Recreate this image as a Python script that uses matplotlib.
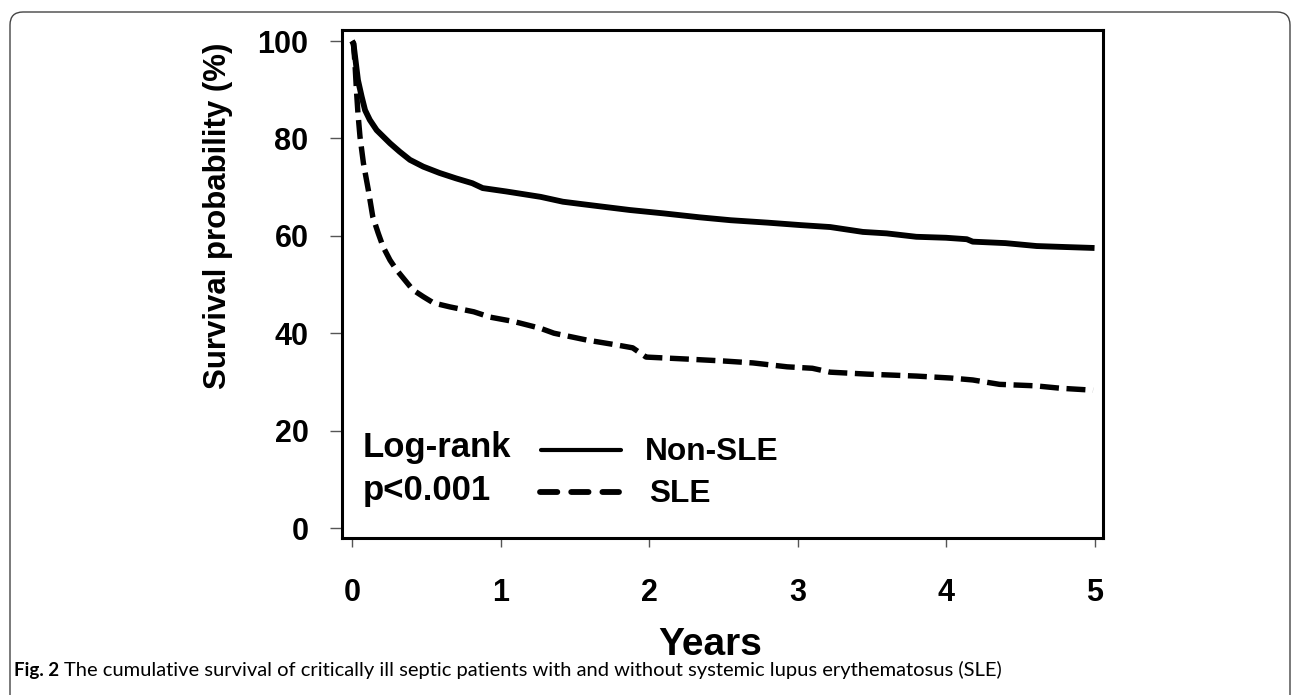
import matplotlib
matplotlib.use("Agg")
import matplotlib.pyplot as plt
from matplotlib.patches import FancyBboxPatch
from matplotlib.transforms import IdentityTransform

# ---------------- data ----------------
years_non_sle = [0.0, 0.01, 0.04, 0.065, 0.088, 0.12, 0.166, 0.256, 0.32, 0.39, 0.48,
                 0.59, 0.70, 0.81, 0.88, 1.04, 1.27, 1.42, 1.55, 1.87, 2.10, 2.34,
                 2.55, 2.80, 3.02, 3.22, 3.44, 3.60, 3.80, 4.00, 4.14, 4.18, 4.40,
                 4.61, 4.80, 5.0]
surv_non_sle = [100.0, 99.5, 92.0, 88.6, 85.8, 83.8, 81.7, 79.0, 77.3, 75.6, 74.2,
                72.9, 71.8, 70.8, 69.8, 69.1, 68.0, 67.0, 66.5, 65.3, 64.6, 63.8,
                63.2, 62.7, 62.2, 61.8, 60.8, 60.5, 59.8, 59.6, 59.3, 58.8, 58.5,
                57.9, 57.7, 57.5]

years_sle = [0.0, 0.01, 0.02, 0.03, 0.04, 0.054, 0.077, 0.11, 0.14, 0.177, 0.21,
             0.256, 0.30, 0.41, 0.48, 0.55, 0.66, 0.82, 0.93, 1.09, 1.27, 1.36,
             1.58, 1.78, 1.89, 1.98, 2.25, 2.50, 2.70, 2.93, 3.10, 3.22, 3.47,
             3.80, 4.03, 4.18, 4.36, 4.60, 4.77, 4.99]
surv_sle = [100.0, 99.5, 95.4, 89.9, 85.2, 80.3, 74.9, 69.4, 63.9, 60.5, 57.7,
            55.0, 53.0, 48.9, 47.5, 46.2, 45.4, 44.4, 43.3, 42.4, 41.0, 40.0,
            38.6, 37.6, 37.0, 35.1, 34.7, 34.3, 33.9, 33.1, 32.8, 32.0, 31.6,
            31.2, 30.8, 30.4, 29.5, 29.2, 28.7, 28.3]

group_labels = ["Non-SLE", "SLE"]
x_ticks = [0, 1, 2, 3, 4, 5]
y_ticks = [0, 20, 40, 60, 80, 100]
x_label = "Years"
y_label = "Survival probability (%)"
test_lines = ["Log-rank", "p<0.001"]
caption_bold = "Fig. 2"
caption_text = ("The cumulative survival of critically ill septic patients with and "
                "without systemic lupus erythematosus (SLE)")

# ---------------- figure ----------------
W, H = 1293, 695
fig = plt.figure(figsize=(W / 100, H / 100), dpi=100)
fig.patch.set_facecolor("white")

# rounded frame around the figure panel
frame = FancyBboxPatch((10, -30), 1280, 683 + 30, boxstyle="round,pad=0,rounding_size=13",
                       transform=IdentityTransform(), facecolor="none",
                       edgecolor="#444444", linewidth=1.0)
fig.add_artist(frame)

ax = fig.add_axes([342 / W, 1 - 538 / H, 761 / W, 508 / H])
ax.set_xlim(-0.0673, 5.057)
ax.set_ylim(-2.05, 102.26)

FONT = "Liberation Sans"

ax.plot(years_non_sle, surv_non_sle, color="black", lw=4.2,
        solid_joinstyle="round", solid_capstyle="butt")
ax.plot(years_sle, surv_sle, color="black", lw=3.9, linestyle=(0, (3.5, 1.4)),
        dash_capstyle="butt")

for s in ax.spines.values():
    s.set_linewidth(2.2)
    s.set_color("black")

ax.set_xticks(x_ticks)
ax.set_yticks(y_ticks)
ax.set_xticklabels([str(v) for v in x_ticks])
ax.set_yticklabels([str(v) for v in y_ticks])
ax.tick_params(axis="y", direction="out", length=8.6, width=1.0, color="#555555", pad=15.5)
ax.tick_params(axis="x", direction="out", length=6.8, width=1.0, color="#555555", pad=22)
for lab in ax.get_xticklabels() + ax.get_yticklabels():
    lab.set_fontfamily(FONT)
    lab.set_fontweight("bold")
    lab.set_fontsize(22)

# axis titles
fig.text(218 / W, 1 - 216 / H, y_label, rotation=90, ha="center", va="center",
         fontfamily=FONT, fontweight="bold", fontsize=22.5)
fig.text(710 / W, 1 - 655 / H, x_label, ha="center", va="baseline",
         fontfamily=FONT, fontweight="bold", fontsize=28)

# legend-like annotation
ax.text(0.074, 14.6, test_lines[0], ha="left", va="baseline",
        fontfamily=FONT, fontweight="bold", fontsize=25)
ax.text(0.074, 5.75, test_lines[1], ha="left", va="baseline",
        fontfamily=FONT, fontweight="bold", fontsize=25)
ax.plot([1.27, 1.81], [16.0, 16.0], color="black", lw=3.0, solid_capstyle="round")
ax.plot([1.266, 1.798], [7.4, 7.4], color="black", lw=4.2,
        linestyle=(0, (2.97, 2.38)), dash_capstyle="round")
ax.text(1.97, 14.0, group_labels[0], ha="left", va="baseline",
        fontfamily=FONT, fontweight="bold", fontsize=22.8)
ax.text(2.0, 5.3, group_labels[1], ha="left", va="baseline",
        fontfamily=FONT, fontweight="bold", fontsize=22.8)

# caption
cap_y = 1 - 676 / H
fig.text(14 / W, cap_y, caption_bold, ha="left", va="baseline",
         fontfamily="Lato", fontweight="bold", fontsize=13.5)
fig.text(64 / W, cap_y, caption_text, ha="left", va="baseline",
         fontfamily="Lato", fontsize=14.5)

fig.savefig("out.png", dpi=100)
